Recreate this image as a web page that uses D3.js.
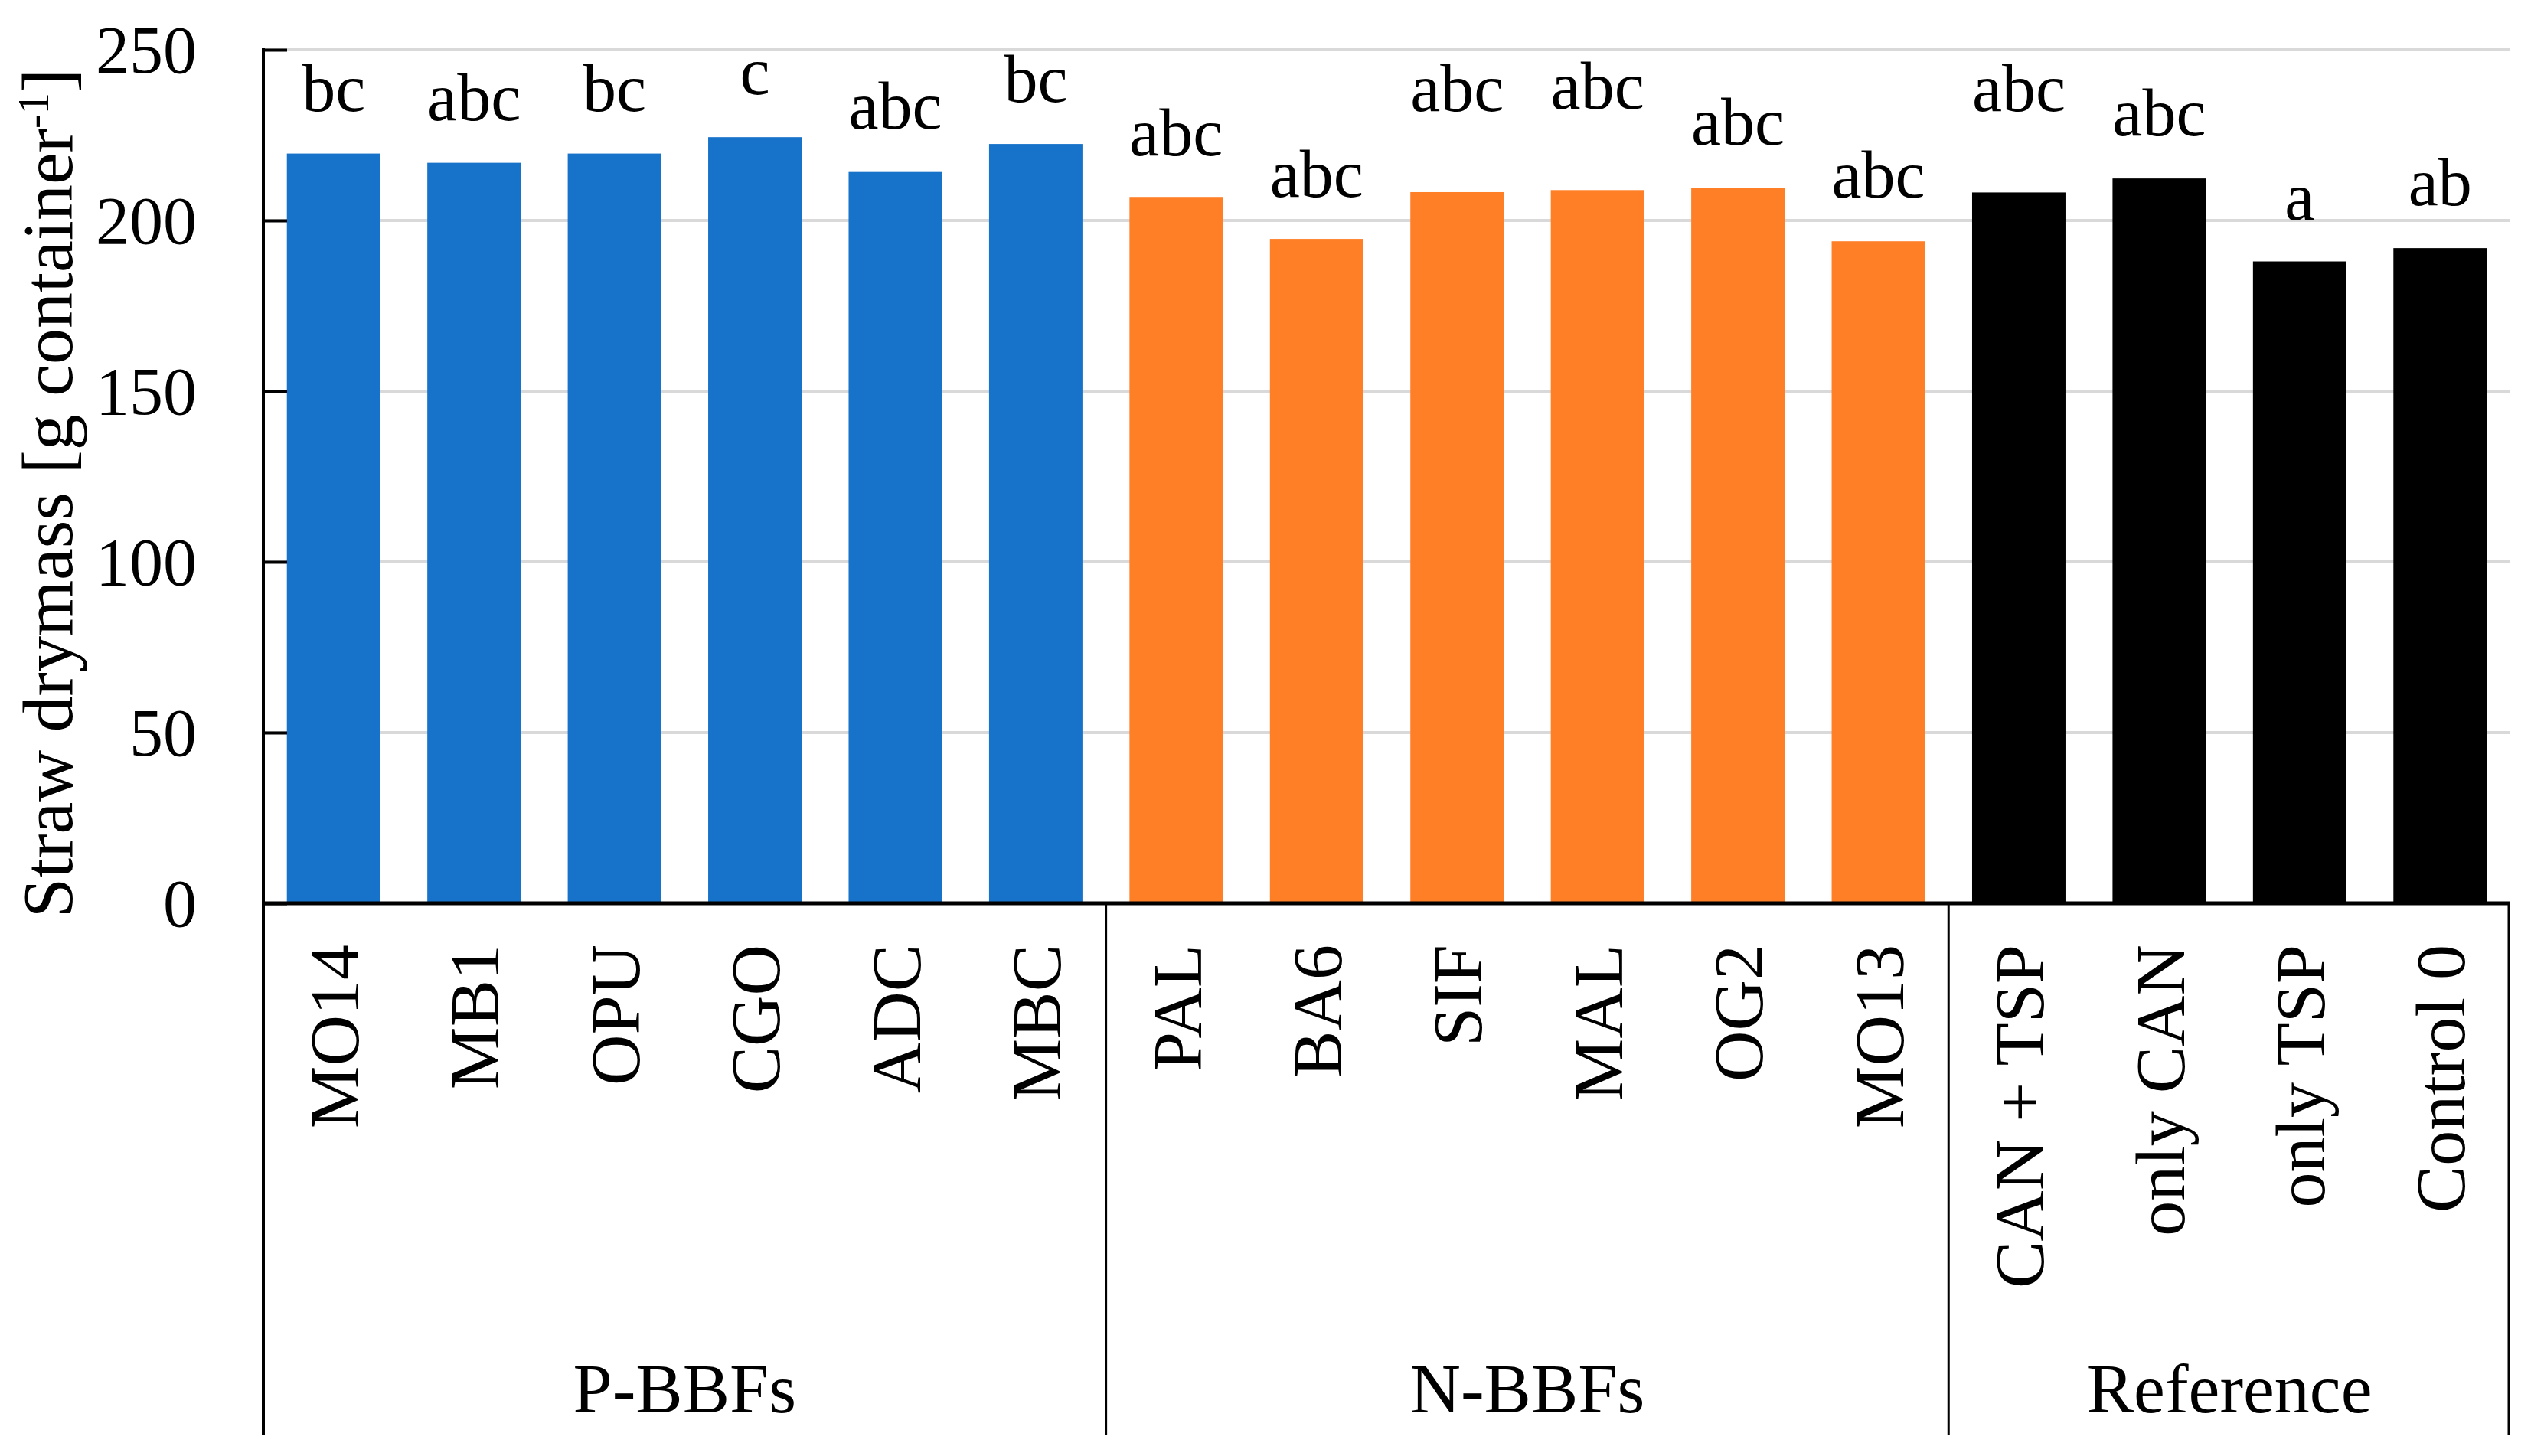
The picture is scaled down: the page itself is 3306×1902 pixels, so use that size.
<!DOCTYPE html>
<html>
<head>
<meta charset="utf-8">
<script src="https://cdn.jsdelivr.net/npm/d3@7"></script>
<style>
  html, body { margin: 0; padding: 0; background: #fff; }
  svg { display: block; }
  text { font-family: "Liberation Serif", "DejaVu Serif", serif; fill: #000; }
</style>
</head>
<body>
<svg id="chart" width="3306" height="1902"></svg>
<script>
// ---- data ----
const categories = ["MO14","MB1","OPU","CGO","ADC","MBC","PAL","BA6","SIF","MAL","OG2","MO13","CAN + TSP","only CAN","only TSP","Control 0"];
const groups = ["P-BBFs","P-BBFs","P-BBFs","P-BBFs","P-BBFs","P-BBFs","N-BBFs","N-BBFs","N-BBFs","N-BBFs","N-BBFs","N-BBFs","Reference","Reference","Reference","Reference"];
const values = [219.6, 216.9, 219.6, 224.4, 214.2, 222.4, 206.9, 194.6, 208.3, 208.9, 209.6, 193.9, 208.2, 212.3, 188.0, 191.9];
const letters = ["bc","abc","bc","c","abc","bc","abc","abc","abc","abc","abc","abc","abc","abc","a","ab"];
// height (in data units) at which each significance letter sits
const letterAt = [232.1, 229.4, 232.1, 237.0, 226.9, 234.8, 219.0, 207.0, 232.0, 232.7, 222.1, 206.7, 232.0, 224.9, 200.2, 204.5];
const groupNames = ["P-BBFs","N-BBFs","Reference"];
const groupColors = ["#1772C9","#FF7F27","#000000"];
const yTicks = [0, 50, 100, 150, 200, 250];
const yTitle = "Straw drymass [g container";

// ---- layout ----
const svg = d3.select("#chart");
const mLeft = 344, mRight = 3279, mTop = 65, mBottom = 1180, axisBottom = 1874;
const fs = 88, fsCat = 92, fsTitle = 94;

const x = d3.scaleBand().domain(categories).range([mLeft, mRight]).paddingInner(0.335).paddingOuter(0.1675);
const y = d3.scaleLinear().domain([0, 250]).range([mBottom, mTop]);
const color = d3.scaleOrdinal().domain(groupNames).range(groupColors);

// gridlines
svg.append("g").selectAll("line").data(yTicks.filter(t => t > 0)).join("line")
  .attr("x1", mLeft).attr("x2", mRight)
  .attr("y1", d => y(d)).attr("y2", d => y(d))
  .attr("stroke", "#D9D9D9").attr("stroke-width", 4);

// bars
svg.append("g").selectAll("rect").data(categories).join("rect")
  .attr("x", d => x(d))
  .attr("width", x.bandwidth())
  .attr("y", (d, i) => y(values[i]))
  .attr("height", (d, i) => y(0) - y(values[i]))
  .attr("fill", (d, i) => color(groups[i]));

// letters
svg.append("g").selectAll("text").data(categories).join("text")
  .attr("x", d => x(d) + x.bandwidth() / 2)
  .attr("y", (d, i) => y(letterAt[i]))
  .attr("text-anchor", "middle")
  .attr("font-size", fs)
  .text((d, i) => letters[i]);

// y axis
const yAxis = d3.axisLeft(y).tickValues(yTicks).tickSize(-31).tickPadding(120);
const gy = svg.append("g").attr("transform", `translate(${mLeft},0)`).call(yAxis);
gy.select(".domain").remove();
gy.selectAll(".tick line").attr("stroke", "#000").attr("stroke-width", 4);
gy.selectAll(".tick text").attr("font-size", fs).attr("font-family", "Liberation Serif, serif")
  .attr("x", 257 - mLeft).attr("dy", "0.34em").attr("text-anchor", "end");
svg.append("line").attr("x1", mLeft).attr("x2", mLeft).attr("y1", mTop - 2).attr("y2", axisBottom)
  .attr("stroke", "#000").attr("stroke-width", 4);

// zero line
svg.append("line").attr("x1", mLeft - 2).attr("x2", mRight).attr("y1", y(0)).attr("y2", y(0))
  .attr("stroke", "#000").attr("stroke-width", 5);

// category labels (rotated)
svg.append("g").selectAll("text").data(categories).join("text")
  .attr("transform", d => `translate(${x(d) + x.bandwidth() / 2},1234) rotate(-90)`)
  .attr("dy", "0.35em")
  .attr("text-anchor", "end")
  .attr("font-size", fsCat)
  .text(d => d);

// group separators and labels
const groupSpans = groupNames.map(g => {
  const cats = categories.filter((c, i) => groups[i] === g);
  const first = x(cats[0]) - x.step() * x.paddingInner() / 2;
  const last = x(cats[cats.length - 1]) + x.bandwidth() + x.step() * x.paddingInner() / 2;
  return { g, first, last };
});
groupSpans.forEach((s, i) => {
  if (i > 0) {
    svg.append("line").attr("x1", s.first).attr("x2", s.first).attr("y1", y(0)).attr("y2", axisBottom)
      .attr("stroke", "#000").attr("stroke-width", 3);
  }
});
svg.append("line").attr("x1", mRight - 2).attr("x2", mRight - 2).attr("y1", y(0)).attr("y2", axisBottom)
  .attr("stroke", "#000").attr("stroke-width", 3);
svg.append("g").selectAll("text").data(groupSpans).join("text")
  .attr("x", d => (Math.max(d.first, mLeft) + Math.min(d.last, mRight)) / 2)
  .attr("y", 1845)
  .attr("text-anchor", "middle")
  .attr("font-size", fsCat)
  .text(d => d.g);

// y title
const t = svg.append("text")
  .attr("transform", `translate(94,${(mTop + mBottom) / 2 + 22}) rotate(-90)`)
  .attr("text-anchor", "middle")
  .attr("font-size", fsTitle);
t.append("tspan").text(yTitle);
t.append("tspan").attr("font-size", fsTitle * 0.6).attr("dy", -fsTitle * 0.33).text("-1");
t.append("tspan").attr("dy", fsTitle * 0.33).text("]");
</script>
</body>
</html>
